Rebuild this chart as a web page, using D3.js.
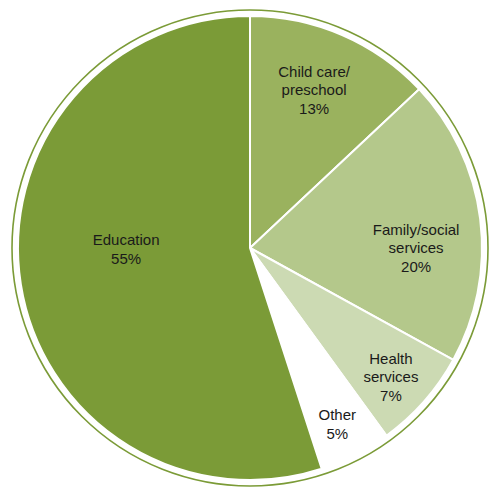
<!DOCTYPE html>
<html>
<head>
<meta charset="utf-8">
<script src="https://cdn.jsdelivr.net/npm/d3@7"></script>
<style>
  body { margin: 0; background: #fff; }
  svg { display: block; }
  text { font-family: "Liberation Sans", Arial, sans-serif; font-size: 15px; fill: #1a1a1a; }
</style>
</head>
<body>
<script>
// categories and shares, clockwise from 12 o'clock
var categories = [["Child care/", "preschool"], ["Family/social", "services"], ["Health", "services"], ["Other"], ["Education"]];
var shares = [13, 20, 7, 5, 55];
var colors = ["#9ab25e", "#b4c88b", "#ccdab3", "#ffffff", "#7b9b37"];

var width = 492, height = 489;
var cx = 250, cy = 248, radius = 232, ringRadius = 238;

// label placement: fraction of radius and angle nudge (rad)
var labelK = [0.735, 0.716, 0.823, 0.847, 0.534];
var labelShift = [-0.023, 0.126, 0.018, 0.011, 0.149];

var svg = d3.select("body").append("svg")
    .attr("width", width)
    .attr("height", height);

var g = svg.append("g").attr("transform", "translate(" + cx + "," + cy + ")");

var pie = d3.pie().sort(null).value(function(d) { return d; });
var arcs = pie(shares);

var arc = d3.arc().innerRadius(0).outerRadius(radius);

g.append("circle")
    .attr("r", ringRadius)
    .attr("fill", "none")
    .attr("stroke", colors[4])
    .attr("stroke-width", 1.6);

g.selectAll("path.slice")
    .data(arcs)
    .enter()
    .append("path")
    .attr("class", "slice")
    .attr("d", arc)
    .attr("fill", function(d, i) { return colors[i]; })
    .attr("stroke", "#fff")
    .attr("stroke-width", 2)
    .attr("stroke-linejoin", "round");

var lineH = 18.5;
var labels = g.selectAll("text.lbl")
    .data(arcs)
    .enter()
    .append("text")
    .attr("class", "lbl")
    .attr("text-anchor", "middle")
    .attr("transform", function(d, i) {
        var a = (d.startAngle + d.endAngle) / 2 + labelShift[i];
        var r = radius * labelK[i];
        return "translate(" + (r * Math.sin(a)) + "," + (-r * Math.cos(a)) + ")";
    });

labels.each(function(d, i) {
    var lines = categories[i].concat([shares[i] + "%"]);
    var t = d3.select(this);
    var y0 = -(lines.length - 1) * lineH / 2;
    lines.forEach(function(s, j) {
        t.append("tspan")
            .attr("x", 0)
            .attr("y", y0 + j * lineH)
            .attr("dy", "0.35em")
            .text(s);
    });
});
</script>
</body>
</html>
